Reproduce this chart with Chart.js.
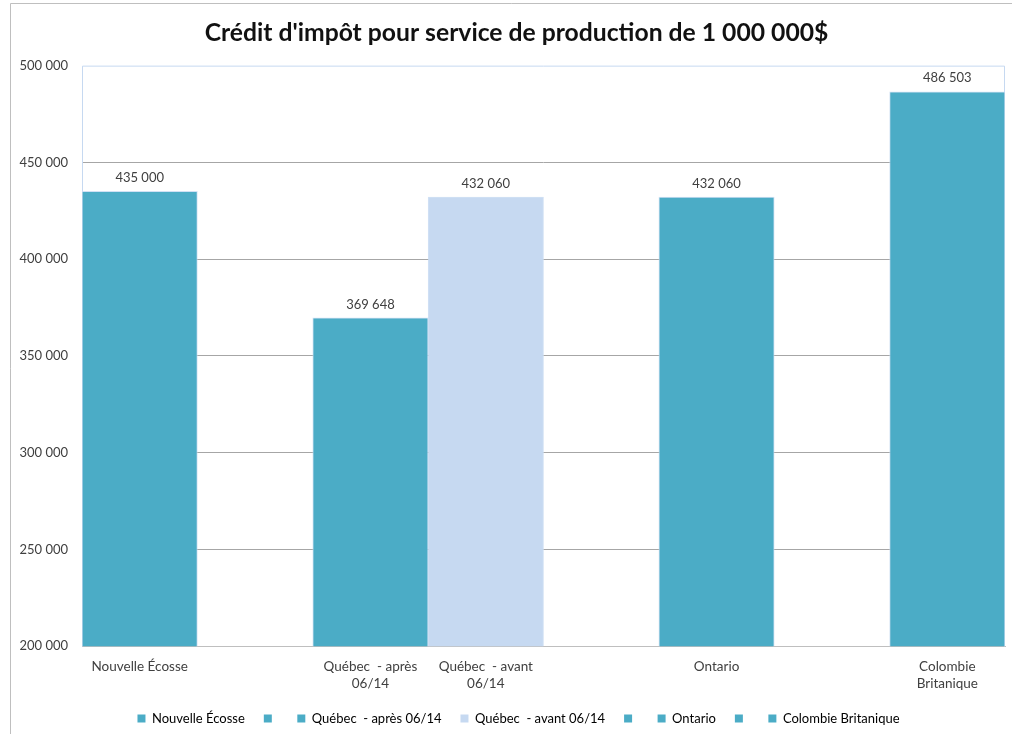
<!DOCTYPE html>
<html>
<head>
<meta charset="utf-8">
<script src="https://cdn.jsdelivr.net/npm/chart.js@4/dist/chart.umd.min.js"></script>
<style>
  html, body { margin: 0; padding: 0; background: #fff; }
  #wrap { width: 1012px; height: 734px; }
</style>
</head>
<body>
<div id="wrap"><canvas id="chart" width="1012" height="734"></canvas></div>
<script>
// Data
const categories = ['Nouvelle Écosse', '', 'Québec  - après 06/14', 'Québec  - avant 06/14', '', 'Ontario', '', 'Colombie Britanique'];
const tickLabels = [['Nouvelle Écosse'], [''], ['Québec  - après', '06/14'], ['Québec  - avant', '06/14'], [''], ['Ontario'], [''], ['Colombie', 'Britanique']];
const values = [435000, null, 369648, 432060, null, 432060, null, 486503];
const barColors = ['#4BACC6', '#4BACC6', '#4BACC6', '#C6D9F1', '#4BACC6', '#4BACC6', '#4BACC6', '#4BACC6'];
const yTicks = [200000, 250000, 300000, 350000, 400000, 450000, 500000];

const FONT = 'Lato, "Open Sans", sans-serif';
const TEXT = '#404040';

// Helpers
const formatNumber = (v) => String(v).replace(/\B(?=(\d{3})+(?!\d))/g, ' ');

// Frame round the chart area + border of plot area
const framePlugin = {
    id: 'frame',
    afterLayout(chart) {
        // title and legend sit a little right of the plot centre in the original
        if (chart.titleBlock) { chart.titleBlock.left += 9; chart.titleBlock.right += 9; }
        if (chart.legend) { chart.legend.left += 11; chart.legend.right += 11; }
    },
    beforeDraw(chart) {
        const ctx = chart.ctx;
        ctx.save();
        ctx.strokeStyle = '#BFBFBF';
        ctx.lineWidth = 1;
        ctx.beginPath();
        ctx.moveTo(10.5, 734);
        ctx.lineTo(10.5, 3.5);
        ctx.lineTo(1012, 3.5);
        ctx.stroke();
        ctx.restore();
    },
    beforeDatasetsDraw(chart) {
        const { ctx, chartArea: a } = chart;
        ctx.save();
        ctx.strokeStyle = '#C6D9F1';
        ctx.lineWidth = 1;
        ctx.beginPath();
        ctx.moveTo(a.left + 0.5, a.bottom);
        ctx.lineTo(a.left + 0.5, a.top + 0.5);
        ctx.lineTo(a.right - 0.5, a.top + 0.5);
        ctx.lineTo(a.right - 0.5, a.bottom);
        ctx.stroke();
        ctx.restore();
    }
};

// Value labels above the bars
const valueLabels = {
    id: 'valueLabels',
    afterDatasetsDraw(chart) {
        const ctx = chart.ctx;
        const meta = chart.getDatasetMeta(0);
        ctx.save();
        ctx.font = '13px ' + FONT;
        ctx.fillStyle = TEXT;
        ctx.textAlign = 'center';
        ctx.textBaseline = 'bottom';
        meta.data.forEach((bar, i) => {
            if (values[i] === null) return;
            ctx.fillText(formatNumber(values[i]), bar.x, bar.y - 7);
        });
        ctx.restore();
    }
};

new Chart(document.getElementById('chart'), {
    type: 'bar',
    data: {
        labels: tickLabels,
        datasets: [{
            data: values,
            backgroundColor: barColors,
            borderColor: 'rgba(198, 217, 241, 0.8)',
            borderWidth: 1,
            categoryPercentage: 1,
            barPercentage: 1
        }]
    },
    options: {
        responsive: false,
        animation: false,
        layout: { padding: { left: 10, right: 7, top: 4, bottom: -1 } },
        plugins: {
            title: {
                display: true,
                text: "Crédit d'impôt pour service de production de 1 000 000$",
                color: '#111',
                font: { family: FONT, size: 24.7, weight: 'bold' },
                padding: { top: 14, bottom: 18 }
            },
            legend: {
                position: 'bottom',
                labels: {
                    boxWidth: 8,
                    boxHeight: 8,
                    padding: 19,
                    color: TEXT,
                    font: { family: FONT, size: 13 },
                    generateLabels: () => categories.map((name, i) => ({
                        text: name,
                        fillStyle: barColors[i],
                        strokeStyle: barColors[i],
                        lineWidth: 0,
                        index: i
                    }))
                }
            },
            tooltip: { enabled: false }
        },
        scales: {
            x: {
                afterFit: (scale) => { scale.height = scale.height - 11; },
                grid: { display: false, drawTicks: false },
                border: { color: '#BFBFBF' },
                ticks: {
                    color: TEXT,
                    padding: 12,
                    maxRotation: 0,
                    autoSkip: false,
                    font: { family: FONT, size: 13.5, lineHeight: 1.25 }
                }
            },
            y: {
                min: 200000,
                max: 500000,
                afterFit: (scale) => { scale.width = 72; },
                afterBuildTicks: (scale) => { scale.ticks = yTicks.map(v => ({ value: v })); },
                grid: {
                    drawTicks: false,
                    color: (c) => c.tick && c.tick.value === 500000 ? 'rgba(0,0,0,0)' : '#A6A6A6'
                },
                border: { display: false },
                ticks: {
                    color: TEXT,
                    padding: 14,
                    font: { family: FONT, size: 13 },
                    callback: (v) => formatNumber(v)
                }
            }
        }
    },
    plugins: [framePlugin, valueLabels]
});
</script>
</body>
</html>
